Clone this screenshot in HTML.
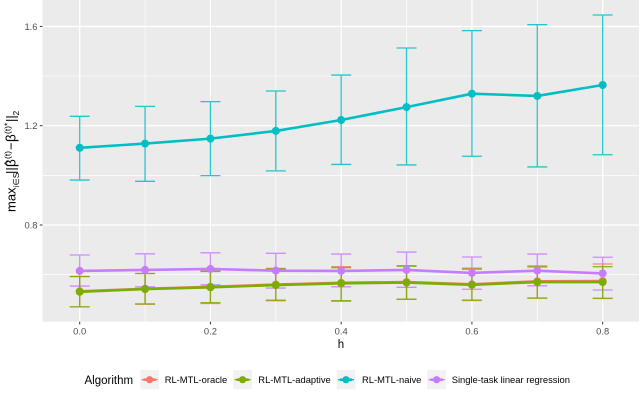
<!DOCTYPE html>
<html lang="en">
<head>
<meta charset="utf-8">
<title>Estimation error by h</title>
<style>
html,body{margin:0;padding:0;background:#fff;width:640px;height:416px;overflow:hidden}
svg{display:block;font-family:"Liberation Sans",sans-serif;filter:blur(0.3px)}
</style>
</head>
<body>
<svg id="chart" width="640" height="416" viewBox="0 0 640 416" xmlns="http://www.w3.org/2000/svg">
  <rect x="42.5" y="0" width="596.5" height="321.7" fill="#ebebeb"/>
  <g id="grid"></g>
  <g id="axes"></g>
  <g id="marks"></g>
  <text x="341" y="348" font-size="11.5" text-anchor="middle" fill="#000">h</text>
  <g transform="translate(15.5,212) rotate(-90)" fill="#000">
    <text x="0" y="0" font-size="13">max</text>
    <text x="24.5" y="3.5" font-size="8.5">i∈S</text>
    <text x="38" y="0" font-size="13">||</text>
    <text x="45" y="0" font-size="13.5">β</text>
    <text x="46" y="-3.5" font-size="11">^</text>
    <text x="53" y="-5" font-size="8.5">(t)</text>
    <text x="62" y="0" font-size="13">−</text>
    <text x="70" y="0" font-size="13.5">β</text>
    <text x="78" y="-5" font-size="8.5">(t)*</text>
    <text x="90" y="0" font-size="13">||</text>
    <text x="96.5" y="3.5" font-size="8.5">2</text>
  </g>
  <g id="legend"></g>
</svg>
<script>
// Data
const hValues = [0, 0.1, 0.2, 0.3, 0.4, 0.5, 0.6, 0.7, 0.8];
const oracleMean = [0.533, 0.543, 0.551, 0.560, 0.567, 0.570, 0.561, 0.573, 0.574];
const oracleUpper = [0.593, 0.605, 0.615, 0.625, 0.632, 0.636, 0.626, 0.635, 0.643];
const oracleLower = [0.470, 0.481, 0.484, 0.495, 0.493, 0.501, 0.496, 0.505, 0.504];
const adaptiveMean = [0.531, 0.542, 0.549, 0.558, 0.565, 0.568, 0.559, 0.570, 0.570];
const adaptiveUpper = [0.592, 0.604, 0.613, 0.623, 0.628, 0.634, 0.622, 0.631, 0.632];
const adaptiveLower = [0.470, 0.482, 0.487, 0.497, 0.495, 0.501, 0.497, 0.506, 0.505];
const naiveMean = [1.111, 1.128, 1.148, 1.179, 1.223, 1.275, 1.329, 1.320, 1.364];
const naiveUpper = [1.238, 1.278, 1.297, 1.340, 1.404, 1.513, 1.583, 1.607, 1.646];
const naiveLower = [0.981, 0.976, 0.999, 1.018, 1.044, 1.042, 1.077, 1.034, 1.083];
const singleMean = [0.615, 0.619, 0.623, 0.616, 0.615, 0.619, 0.607, 0.616, 0.605];
const singleUpper = [0.679, 0.684, 0.688, 0.686, 0.683, 0.691, 0.671, 0.683, 0.670];
const singleLower = [0.554, 0.551, 0.559, 0.546, 0.551, 0.549, 0.541, 0.555, 0.538];
const xTickValues = [0, 0.2, 0.4, 0.6, 0.8];
const xTickLabels = ['0.0', '0.2', '0.4', '0.6', '0.8'];
const xMinorValues = [0.1, 0.3, 0.5, 0.7];
const yTickValues = [0.8, 1.2, 1.6];
const yTickLabels = ['0.8', '1.2', '1.6'];
const yMinorValues = [0.6, 1.0, 1.4];
const seriesNames = ['RL-MTL-oracle', 'RL-MTL-adaptive', 'RL-MTL-naive', 'Single-task linear regression'];

const SVG_NS = 'http://www.w3.org/2000/svg';
const PANEL = {left: 42.5, right: 639, top: 0, bottom: 321.7};
function xScale(h) { return 79.7 + h * 653.7; }
function yScale(v) { return 225 - (v - 0.8) * 248.2; }
function make(parent, tag, props) {
  const el = document.createElementNS(SVG_NS, tag);
  for (const k in props) el.setAttribute(k, props[k]);
  parent.appendChild(el);
  return el;
}

const grid = document.getElementById('grid');
const axes = document.getElementById('axes');
const marks = document.getElementById('marks');
const legend = document.getElementById('legend');

xMinorValues.forEach(function (h) {
  const el = make(grid, 'line', {x1: xScale(h), x2: xScale(h), y1: PANEL.top, y2: PANEL.bottom, stroke: '#fff', 'stroke-width': 0.7});
  
  
});
yMinorValues.forEach(function (v) {
  const el = make(grid, 'line', {x1: PANEL.left, x2: PANEL.right, y1: yScale(v), y2: yScale(v), stroke: '#fff', 'stroke-width': 0.7});
  
  
});
xTickValues.forEach(function (h, i) {
  const gl = make(grid, 'line', {x1: xScale(h), x2: xScale(h), y1: PANEL.top, y2: PANEL.bottom, stroke: '#fff', 'stroke-width': 1.3});
  
  
  const tick = make(axes, 'line', {x1: xScale(h), x2: xScale(h), y1: PANEL.bottom, y2: PANEL.bottom + 2.7, stroke: '#333', 'stroke-width': 1});
  
  
  const label = make(axes, 'text', {x: xScale(h), y: 334.7, 'font-size': 9.4, 'text-anchor': 'middle', fill: '#4d4d4d'});
  label.textContent = xTickLabels[i];
  
  
});
yTickValues.forEach(function (v, i) {
  const gl = make(grid, 'line', {x1: PANEL.left, x2: PANEL.right, y1: yScale(v), y2: yScale(v), stroke: '#fff', 'stroke-width': 1.3});
  
  
  const tick = make(axes, 'line', {x1: PANEL.left - 2.7, x2: PANEL.left, y1: yScale(v), y2: yScale(v), stroke: '#333', 'stroke-width': 1});
  
  
  const label = make(axes, 'text', {x: 37.5, y: yScale(v) + 3.4, 'font-size': 9.4, 'text-anchor': 'end', fill: '#4d4d4d'});
  label.textContent = yTickLabels[i];
  
  
});

const series = [
  {key: 'single', color: '#C77CFF', mean: singleMean, upper: singleUpper, lower: singleLower},
  {key: 'oracle', color: '#F8766D', mean: oracleMean, upper: oracleUpper, lower: oracleLower},
  {key: 'adaptive', color: '#7CAE00', mean: adaptiveMean, upper: adaptiveUpper, lower: adaptiveLower},
  {key: 'naive', color: '#00BFC4', mean: naiveMean, upper: naiveUpper, lower: naiveLower}
];
const CAP = 10;
series.forEach(function (s) {
  const bars = make(marks, 'g', {stroke: s.color, 'stroke-width': 1.3, 'stroke-opacity': 0.85, fill: 'none'});
  
  
  hValues.forEach(function (h, i) {
    const x = xScale(h), yu = yScale(s.upper[i]), yl = yScale(s.lower[i]);
    const bar = make(bars, 'path', {d: 'M' + (x - CAP) + ' ' + yu + 'H' + (x + CAP) + 'M' + x + ' ' + yu + 'V' + yl + 'M' + (x - CAP) + ' ' + yl + 'H' + (x + CAP)});
    
    
  });
});
series.forEach(function (s) {
  const pts = hValues.map(function (h, i) { return xScale(h) + ',' + yScale(s.mean[i]); }).join(' ');
  const line = make(marks, 'polyline', {points: pts, fill: 'none', stroke: s.color, 'stroke-width': 2.6, 'stroke-linejoin': 'round'});
  
  
});
series.forEach(function (s) {
  hValues.forEach(function (h, i) {
    const pt = make(marks, 'circle', {cx: xScale(h), cy: yScale(s.mean[i]), r: 4, fill: s.color});
    
    
  });
});

const legendTitle = make(legend, 'text', {x: 84.5, y: 384, 'font-size': 11.5, fill: '#000'});
legendTitle.textContent = 'Algorithm';


const legendColors = ['#F8766D', '#7CAE00', '#00BFC4', '#C77CFF'];
const legendKeyX = [140.3, 233.3, 336.7, 427.3];
const legendLabelX = [164.7, 258.3, 362, 451.7];
seriesNames.forEach(function (name, i) {
  const entry = make(legend, 'g', {});
  
  
  const kx = legendKeyX[i], cx = kx + 9.3, cy = 379.7;
  make(entry, 'rect', {x: kx, y: 370, width: 18.7, height: 19.3, fill: '#f2f2f2'});
  make(entry, 'line', {x1: cx - 8, x2: cx + 8, y1: cy, y2: cy, stroke: legendColors[i], 'stroke-width': 1.4});
  make(entry, 'line', {x1: cx - 6, x2: cx + 6, y1: cy, y2: cy, stroke: legendColors[i], 'stroke-width': 2.6});
  make(entry, 'circle', {cx: cx, cy: cy, r: 3.6, fill: legendColors[i]});
  const label = make(entry, 'text', {x: legendLabelX[i], y: 383.2, 'font-size': 9.4, fill: '#000'});
  label.textContent = name;
  
  
});
</script>
</body>
</html>
